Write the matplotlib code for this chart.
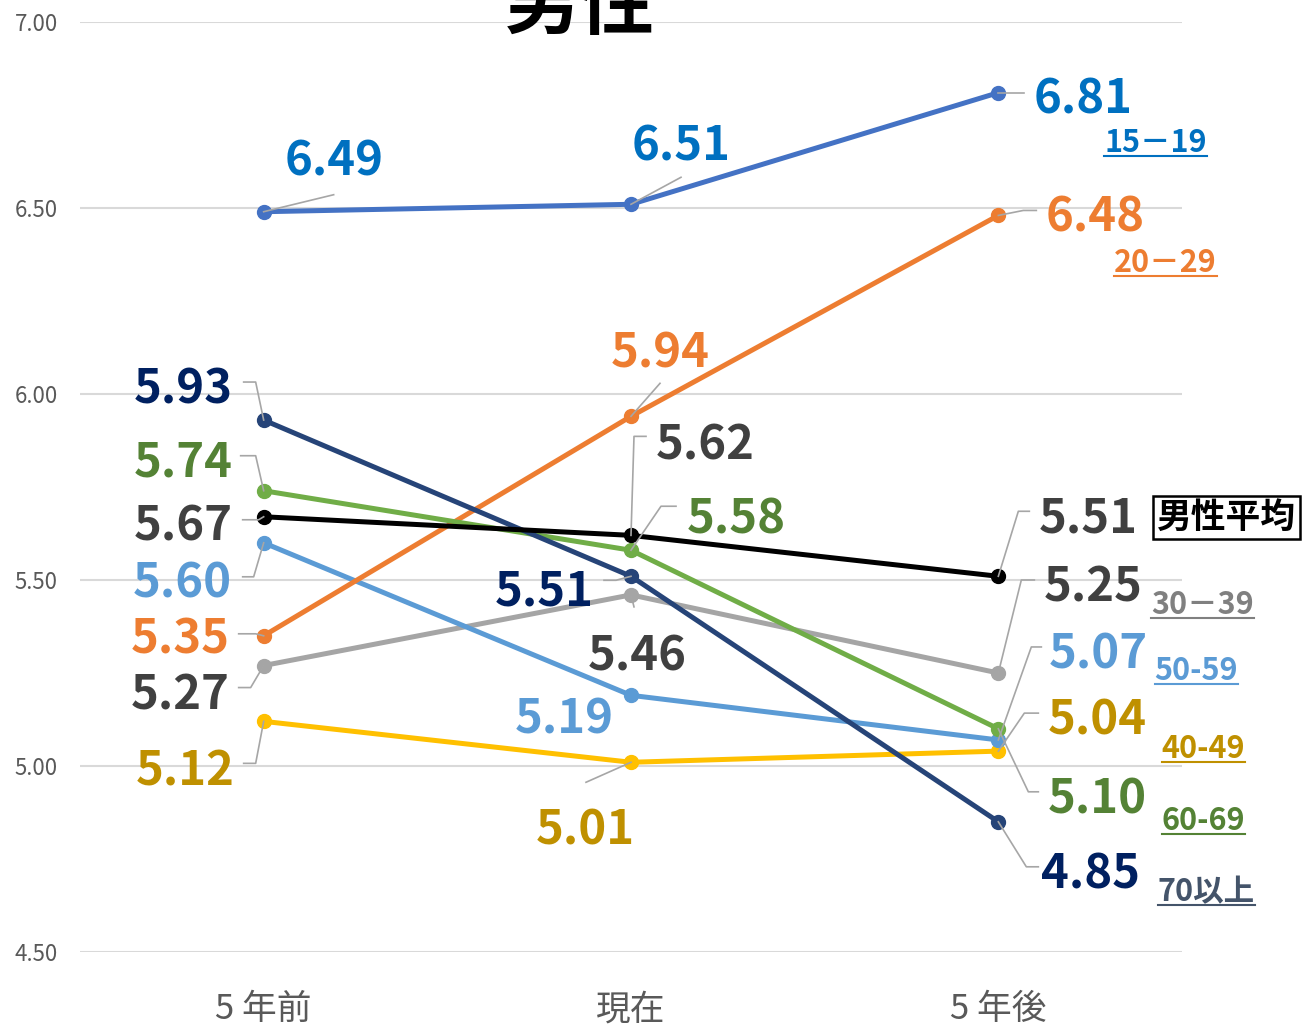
import matplotlib
matplotlib.use('Agg')
import matplotlib.pyplot as plt
from matplotlib.lines import Line2D
from matplotlib.transforms import IdentityTransform

plt.rcParams['font.family'] = ['Noto Sans CJK JP', 'DejaVu Sans']

# data
categories = ['5 年前', '現在', '5 年後']
groups = ['15－19', '20－29', '30－39', '40-49', '50-59', '60-69', '70以上', '男性平均']
v_15_19 = [6.49, 6.51, 6.81]
v_20_29 = [5.35, 5.94, 6.48]
v_30_39 = [5.27, 5.46, 5.25]
v_40_49 = [5.12, 5.01, 5.04]
v_50_59 = [5.60, 5.19, 5.07]
v_60_69 = [5.74, 5.58, 5.10]
v_70_up = [5.93, 5.51, 4.85]
v_avg = [5.67, 5.62, 5.51]
values = [v_15_19, v_20_29, v_30_39, v_40_49, v_50_59, v_60_69, v_70_up, v_avg]

line_colors = ['#4472C4', '#ED7D31', '#A5A5A5', '#FFC000', '#5B9BD5', '#70AD47', '#264478', '#000000']
text_colors = ['#0070C0', '#ED7D31', '#404040', '#BF9000', '#5B9BD5', '#548235', '#002060', '#404040']
name_colors = ['#0070C0', '#ED7D31', '#808080', '#BF9000', '#5B9BD5', '#548235', '#44546A', '#000000']

# label layout: pixel offsets from each point (x right, y down)
label_off = [
    [(70, -54), (50, -62), (85, 3)],
    [(-83, 0), (29, -67), (97, -2)],
    [(-83, 26), (6, 58), (95, -89)],
    [(-78, 46), (-46, 64), (99, -35)],
    [(-81, 37), (-67, 20), (100, -89)],
    [(-80, -32), (105, -35), (99, 67)],
    [(-80, -35), (-87, 11), (92, 49)],
    [(-80, 6), (74, -94), (90, -62)],
]
leaders = [
    [[(0, 0), (70, -17)], [(0, 0), (50, -27)], [(0, 0), (26, 0)]],
    [[(0, 0), (-8, -2), (-25, -2)], [(0, 0), (29, -33)], [(0, 0), (25, -5), (38, -5)]],
    [[(0, 0), (-13, 22), (-25, 22)], [(0, 0), (3, 12)], [(0, 0), (23, -93), (36, -93)]],
    [[(0, 0), (-8, 42), (-20, 42)], [(0, 0), (-45, 20)], [(0, 0), (26, -38), (40, -38)]],
    [[(0, 0), (-10, 34), (-21, 34)], None, [(0, 0), (33, -93), (43, -93)]],
    [[(0, 0), (-8, -35), (-23, -35)], [(0, 0), (30, -44), (45, -44)], [(0, 0), (30, 63), (40, 63)]],
    [[(0, 0), (-8, -38), (-20, -38)], [(0, 0), (-15, 4), (-27, 4)], [(0, 0), (28, 45), (40, 45)]],
    [[(0, 0), (-5, 3), (-21, 3)], [(0, 0), (3, -99), (15, -99)], [(0, 0), (20, -65), (31, -65)]],
]
name_off = [(157, 46), (167, 44), (204, -72), (205, -6), (198, -73), (205, 88), (208, 66), (228, -63)]
text_shift = 4  # glyph centre vs. box centre

fig = plt.figure(figsize=(13.04, 10.30), dpi=100)
ax = fig.add_axes([80 / 1304, 78 / 1030, 1102 / 1304, 930 / 1030])
x = list(range(len(categories)))

draw_order = [2, 3, 4, 1, 5, 6, 0, 7]
for k, i in enumerate(draw_order):
    ax.plot(x, values[i], color=line_colors[i], lw=3.6, marker='o', ms=10, zorder=3 + k * 0.1)

ax.set_xlim(-0.5, 2.5)
ax.set_ylim(4.5, 7.0)
ax.set_yticks([4.5, 5.0, 5.5, 6.0, 6.5, 7.0])
ax.set_yticklabels(['%.2f' % t for t in [4.5, 5.0, 5.5, 6.0, 6.5, 7.0]])
ax.set_xticks(x)
ax.set_xticklabels(categories)
ax.tick_params(axis='y', length=0, pad=16, labelsize=16, labelcolor='#595959')
ax.tick_params(axis='x', length=0, pad=29, labelsize=25, labelcolor='#595959')
ax.yaxis.grid(True, color='#D9D9D9', lw=1.5)
ax.set_axisbelow(True)
for s in ax.spines.values():
    s.set_visible(False)

# title is partly above the top edge, as in the source
fig.text(580 / 1304, 1.0 - 6 / 1030, '男性', ha='center', va='center', fontsize=54, weight='bold')

fig.canvas.draw()
# value labels and leader lines
for i, vals in enumerate(values):
    for j, v in enumerate(vals):
        dx, dy = label_off[i][j]
        ax.annotate('%.2f' % v, xy=(j, v), xytext=(dx, -dy - text_shift), textcoords='offset pixels',
                    ha='center', va='center', fontsize=34, weight='bold',
                    color=text_colors[i], annotation_clip=False, zorder=6)
        if leaders[i][j] is not None:
            px, py = ax.transData.transform((j, v))
            xs = [px + ox for ox, oy in leaders[i][j]]
            ys = [py - oy for ox, oy in leaders[i][j]]
            fig.add_artist(Line2D(xs, ys, transform=IdentityTransform(),
                                  color='#A6A6A6', lw=1.2, zorder=5))

# series names at the right end
name_texts = []
for i, name in enumerate(groups):
    dx, dy = name_off[i]
    if i == len(groups) - 1:
        ax.annotate(name, xy=(2, values[i][2]), xytext=(dx, -dy - text_shift), textcoords='offset pixels',
                    ha='center', va='center', fontsize=25, weight='bold', color='#000000',
                    annotation_clip=False,
                    bbox=dict(boxstyle='square,pad=0.12', fc='white', ec='black', lw=1.8))
    else:
        t = ax.annotate(name, xy=(2, values[i][2]), xytext=(dx, -dy - text_shift), textcoords='offset pixels',
                        ha='center', va='center', fontsize=22, weight='bold', color=name_colors[i],
                        annotation_clip=False)
        name_texts.append((t, name_colors[i]))

fig.canvas.draw()
r = fig.canvas.get_renderer()
for t, c in name_texts:
    bb = t.get_window_extent(r)
    fig.add_artist(Line2D([bb.x0, bb.x1], [bb.y0 + 3, bb.y0 + 3], transform=IdentityTransform(),
                          color=c, lw=1.5))

plt.savefig('out.png', dpi=100)
